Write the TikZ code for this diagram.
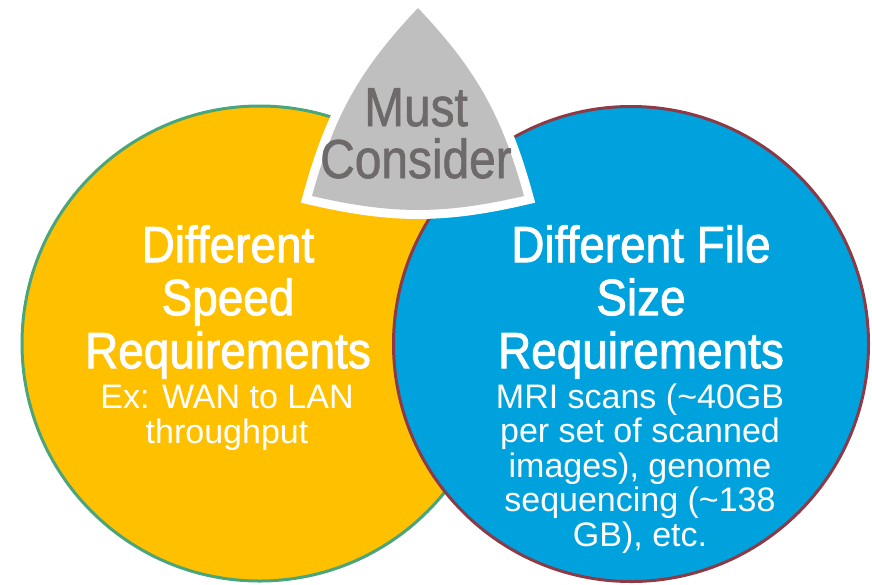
\documentclass[tikz,border=0pt]{standalone}
\usepackage{fontspec}
\setmainfont{Liberation Sans}
\newfontfamily\narrowfont[FakeStretch=0.9,FakeBold=1.6]{Liberation Sans}
\newfontfamily\mustfont[FakeStretch=0.87,FakeBold=1.2]{Liberation Sans}
\definecolor{cYellow}{HTML}{FFC000}
\definecolor{cGreen}{HTML}{4AA57B}
\definecolor{cBlue}{HTML}{00A2DE}
\definecolor{cRed}{HTML}{8C3A45}
\definecolor{cGray}{HTML}{BFBFBF}
\definecolor{cTextGray}{HTML}{6F6A6A}
\tikzset{
  heading/.style={text=white, align=center, inner sep=0pt, anchor=north,
    font=\narrowfont\fontsize{51}{53}\selectfont},
  bodytext/.style={text=white, align=center, inner sep=0pt, anchor=north,
    font=\fontsize{34}{34.5}\selectfont},
  musttext/.style={text=cTextGray, align=center, inner sep=0pt, anchor=north,
    font=\mustfont\fontsize{55}{52}\selectfont}
}
\begin{document}
\begin{tikzpicture}[x=1pt,y=-1pt]
\useasboundingbox (0,0) rectangle (872,584);
% circles
\draw[cGreen, line width=3pt, fill=cYellow] (259.5,343.5) circle (237.5);
\draw[cRed, line width=3pt, fill=cBlue] (631,344) circle (237.5);
% must-consider shape
\coordinate (A) at (418,8);
\coordinate (B) at (312,196);
\coordinate (C) at (524,196);
\draw[white, line width=18pt, line join=miter]
  (A) to[bend right=14] (B) to[bend right=13] (C) to[bend right=14] cycle;
\fill[cGray] (A) to[bend right=14] (B) to[bend right=13] (C) to[bend right=14] cycle;
% texts
\node[musttext] (must) at (416,88) {Must\\Consider};
\node[heading] (lhead) at (228,225) {Different\\Speed\\Requirements};
\node[bodytext] (lbody) at (227,385) {Ex: WAN to LAN\\throughput};
\node[heading] (rhead) at (641,225) {Different File\\Size\\Requirements};
\node[bodytext] (rbody) at (640,383.5) {MRI scans (\textasciitilde40GB\\per set of scanned\\images), genome\\sequencing (\textasciitilde138\\GB), etc.};
\end{tikzpicture}
\end{document}
